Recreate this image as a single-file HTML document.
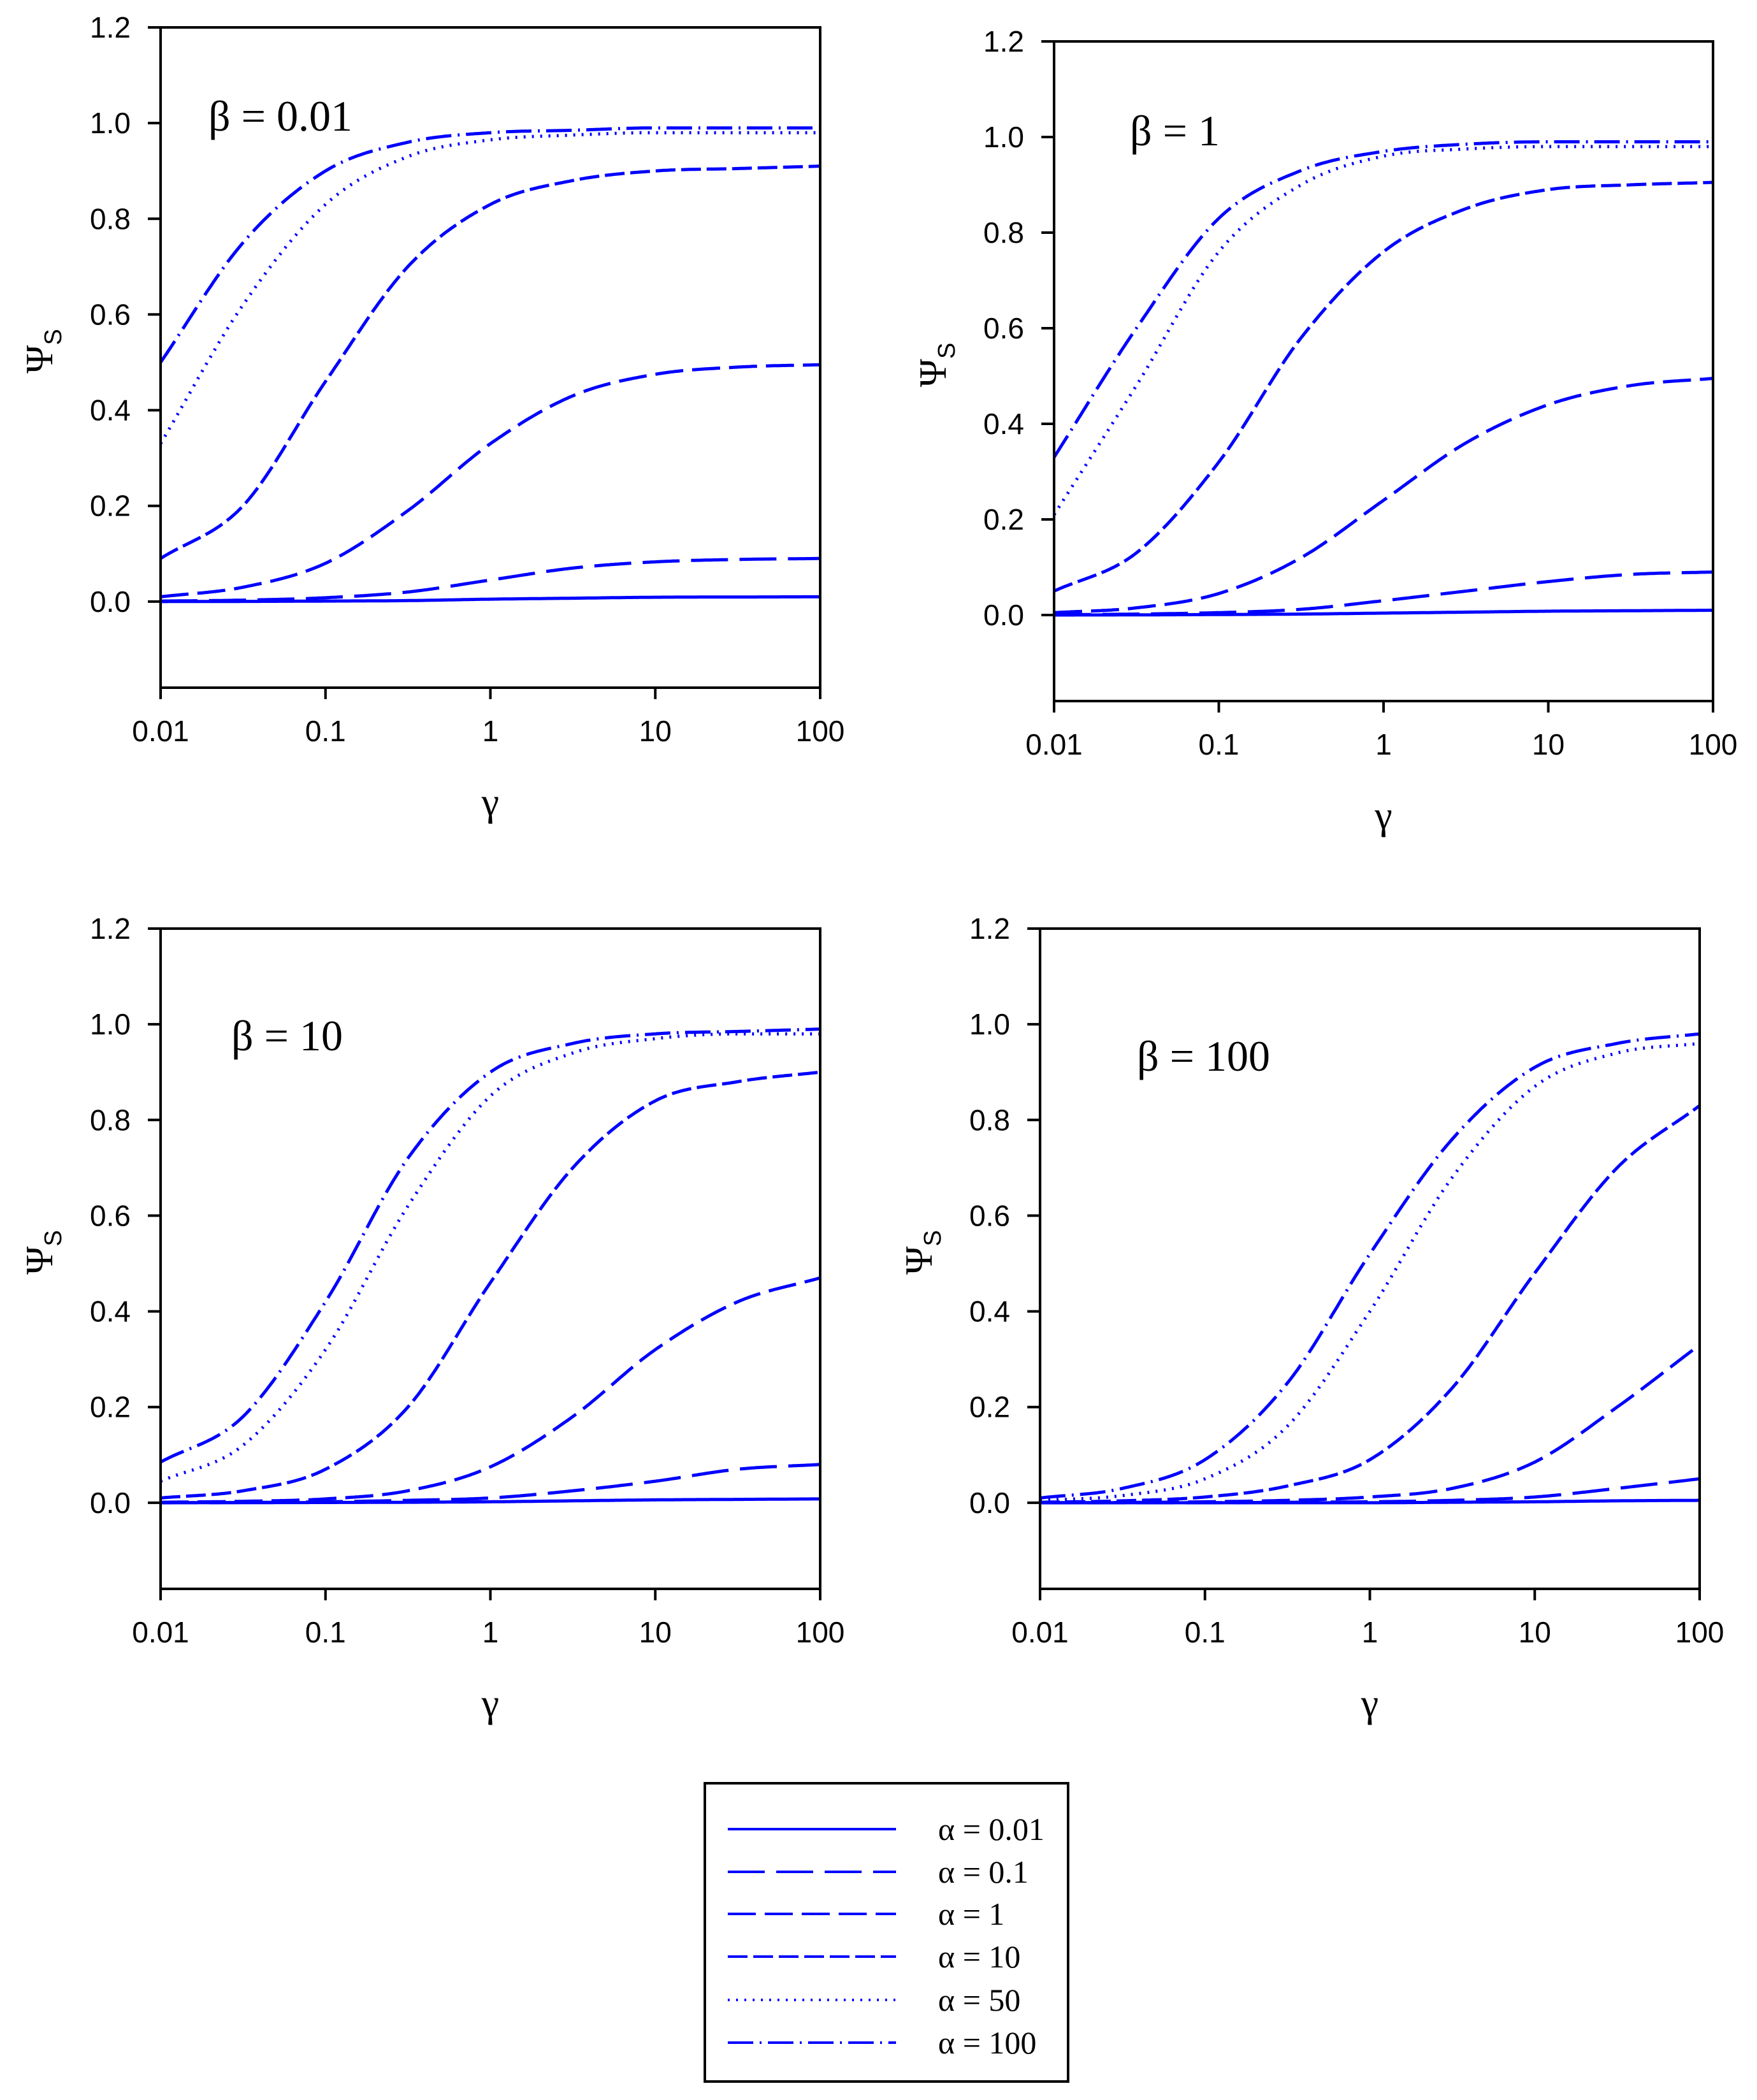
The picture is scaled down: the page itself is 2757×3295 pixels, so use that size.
<!DOCTYPE html>
<html><head><meta charset="utf-8"><style>
html,body{margin:0;padding:0;background:#fff}
svg{display:block}
</style></head><body>
<svg id="fig" xmlns="http://www.w3.org/2000/svg" width="2757" height="3295" viewBox="0 0 2757 3295"></svg>
<script>
const xTicks = [0.01, 0.1, 1, 10, 100];
const xTickLabels = ["0.01", "0.1", "1", "10", "100"];
const yTicks = [0.0, 0.2, 0.4, 0.6, 0.8, 1.0, 1.2];
const yTickLabels = ["0.0", "0.2", "0.4", "0.6", "0.8", "1.0", "1.2"];
const gammaSamples = [0.01, 0.0316, 0.1, 0.316, 1, 3.16, 10, 31.6, 100];
const alphaLabels = ["α = 0.01", "α = 0.1", "α = 1", "α = 10", "α = 50", "α = 100"];
const betaLabels = ["β = 0.01", "β = 1", "β = 10", "β = 100"];
// beta = 0.01
const b1_a001 = [0, 0.0003, 0.001, 0.002, 0.005, 0.007, 0.009, 0.0095, 0.01];
const b1_a01 = [0.001, 0.003, 0.008, 0.02, 0.045, 0.07, 0.083, 0.088, 0.09];
const b1_a1 = [0.01, 0.03, 0.08, 0.19, 0.33, 0.43, 0.475, 0.49, 0.495];
const b1_a10 = [0.09, 0.2, 0.46, 0.70, 0.83, 0.88, 0.9, 0.905, 0.91];
const b1_a50 = [0.33, 0.62, 0.83, 0.93, 0.965, 0.975, 0.98, 0.98, 0.98];
const b1_a100 = [0.5, 0.75, 0.9, 0.96, 0.98, 0.985, 0.99, 0.99, 0.99];
// beta = 1
const b2_a001 = [0, 0.0003, 0.001, 0.002, 0.004, 0.006, 0.008, 0.009, 0.01];
const b2_a01 = [0.0005, 0.002, 0.005, 0.012, 0.03, 0.05, 0.07, 0.085, 0.09];
const b2_a1 = [0.005, 0.015, 0.045, 0.12, 0.24, 0.36, 0.44, 0.48, 0.495];
const b2_a10 = [0.05, 0.13, 0.32, 0.58, 0.76, 0.85, 0.89, 0.9, 0.905];
const b2_a50 = [0.21, 0.48, 0.76, 0.9, 0.96, 0.975, 0.98, 0.98, 0.98];
const b2_a100 = [0.33, 0.6, 0.83, 0.93, 0.97, 0.985, 0.99, 0.99, 0.99];
// beta = 10
const b3_a001 = [0, 0.0002, 0.0005, 0.001, 0.002, 0.004, 0.006, 0.007, 0.008];
const b3_a01 = [0, 0.0005, 0.002, 0.005, 0.01, 0.025, 0.045, 0.07, 0.08];
const b3_a1 = [0.001, 0.003, 0.008, 0.025, 0.075, 0.18, 0.32, 0.42, 0.47];
const b3_a10 = [0.01, 0.025, 0.07, 0.2, 0.46, 0.70, 0.84, 0.88, 0.9];
const b3_a50 = [0.045, 0.12, 0.32, 0.62, 0.85, 0.94, 0.97, 0.98, 0.98];
const b3_a100 = [0.085, 0.18, 0.42, 0.72, 0.9, 0.96, 0.98, 0.985, 0.99];
// beta = 100
const b4_a001 = [0, 0, 0, 0, 0, 0.001, 0.002, 0.004, 0.005];
const b4_a01 = [0, 0, 0, 0.001, 0.002, 0.005, 0.012, 0.03, 0.05];
const b4_a1 = [0, 0.0005, 0.002, 0.005, 0.012, 0.03, 0.085, 0.2, 0.33];
const b4_a10 = [0.001, 0.004, 0.012, 0.035, 0.09, 0.24, 0.48, 0.7, 0.83];
const b4_a50 = [0.005, 0.015, 0.05, 0.16, 0.4, 0.68, 0.87, 0.94, 0.96];
const b4_a100 = [0.01, 0.03, 0.09, 0.25, 0.52, 0.76, 0.91, 0.96, 0.98];

const panelSeries = [
  [b1_a001, b1_a01, b1_a1, b1_a10, b1_a50, b1_a100],
  [b2_a001, b2_a01, b2_a1, b2_a10, b2_a50, b2_a100],
  [b3_a001, b3_a01, b3_a1, b3_a10, b3_a50, b3_a100],
  [b4_a001, b4_a01, b4_a1, b4_a10, b4_a50, b4_a100]
];
const panels = [
  {l:252, r:1287, t:43, b:1079, bx:327, by:205},
  {l:1654, r:2688, t:65, b:1100, bx:1773, by:228},
  {l:252, r:1287, t:1457, b:2493, bx:363, by:1648},
  {l:1632, r:2667, t:1457, b:2493, bx:1784, by:1680}
];
const dashes = ["", "58 18", "44 14", "31 9", "3 10", "40 10 3 10"];
const NS = "http://www.w3.org/2000/svg";
const svg = document.getElementById('fig');
function mk(tag, attrs, parent){
  const e = document.createElementNS(NS, tag);
  for (const k in attrs) e.setAttribute(k, attrs[k]);
  (parent||svg).appendChild(e);
  return e;
}
function monotone(xs, ys){
  const n = xs.length, d = [], m = new Array(n);
  for (let i=0;i<n-1;i++) d.push((ys[i+1]-ys[i])/(xs[i+1]-xs[i]));
  m[0]=d[0]; m[n-1]=d[n-2];
  for (let i=1;i<n-1;i++) m[i] = (d[i-1]*d[i]<=0)?0:(d[i-1]+d[i])/2;
  for (let i=0;i<n-1;i++){
    if (d[i]===0){m[i]=0;m[i+1]=0;continue;}
    const a=m[i]/d[i], b=m[i+1]/d[i], s=a*a+b*b;
    if (s>9){const t=3/Math.sqrt(s); m[i]=t*a*d[i]; m[i+1]=t*b*d[i];}
  }
  return function(x){
    let i=0; while(i<n-2 && x>xs[i+1]) i++;
    const h=xs[i+1]-xs[i], t=(x-xs[i])/h, t2=t*t, t3=t2*t;
    return (2*t3-3*t2+1)*ys[i]+(t3-2*t2+t)*h*m[i]+(-2*t3+3*t2)*ys[i+1]+(t3-t2)*h*m[i+1];
  };
}
panels.forEach((p, pi) => {
  const g = mk('g', {});
  
  
  const xs = v => p.l + (Math.log10(v)+2)/4*(p.r-p.l);
  const yZero = p.b - (p.b-p.t)*0.18/1.38;
  const ys = v => yZero - v*(yZero-p.t)/1.2;
  const lx = gammaSamples.map(v=>Math.log10(v));
  panelSeries[pi].forEach((vals, si) => {
    const f = monotone(lx, vals);
    let pts = [];
    for (let k=0;k<=300;k++){
      const L = -2 + 4*k/300;
      pts.push(xs(Math.pow(10,L)).toFixed(1)+','+ys(f(L)).toFixed(1));
    }
    const pl = mk('polyline', {points:pts.join(' '), fill:'none', stroke:'#0000ff', 'stroke-width':5}, g);
    if (dashes[si]) pl.setAttribute('stroke-dasharray', dashes[si]);
    
    
  });
  const fr = mk('rect', {x:p.l, y:p.t, width:p.r-p.l, height:p.b-p.t, fill:'none', stroke:'#000', 'stroke-width':4}, g);
  
  
  yTicks.forEach((v, i) => {
    const y = ys(v);
    const tk = mk('line', {x1:p.l-20, x2:p.l, y1:y, y2:y, stroke:'#000', 'stroke-width':4}, g);
    
    
    const t = mk('text', {x:p.l-47, y:y+16, 'text-anchor':'end', 'font-family':'Liberation Sans, sans-serif', 'font-size':46}, g);
    t.textContent = yTickLabels[i];
    
    
  });
  xTicks.forEach((v, i) => {
    const x = xs(v);
    const tk = mk('line', {x1:x, x2:x, y1:p.b, y2:p.b+18, stroke:'#000', 'stroke-width':4}, g);
    
    
    const t = mk('text', {x:x, y:p.b+84, 'text-anchor':'middle', 'font-family':'Liberation Sans, sans-serif', 'font-size':46}, g);
    t.textContent = xTickLabels[i];
    
    
  });
  const xl = mk('text', {x:(p.l+p.r)/2, y:p.b+200, 'text-anchor':'middle', 'font-family':'Liberation Serif, serif', 'font-size':62}, g);
  xl.textContent = 'γ';
  
  
  const cy = (p.t+p.b)/2 - 10;
  const yl = mk('text', {transform:`translate(${p.l-170},${cy}) rotate(-90)`, 'text-anchor':'middle', 'font-family':'Liberation Serif, serif', 'font-size':60}, g);
  yl.innerHTML = 'Ψ<tspan font-family="Liberation Sans, sans-serif" font-size="38" dy="14">S</tspan>';
  
  
  const bt = mk('text', {x:p.bx, y:p.by, 'font-family':'Liberation Serif, serif', 'font-size':68}, g);
  bt.textContent = betaLabels[pi];
  
  
});
const lg = mk('g', {});


const box = mk('rect', {x:1106, y:2798, width:570, height:468, fill:'#fff', stroke:'#000', 'stroke-width':4}, lg);


const rowY = [2870, 2937, 3003, 3070, 3138, 3205];
alphaLabels.forEach((lab, i) => {
  const ln = mk('line', {x1:1142, x2:1406, y1:rowY[i], y2:rowY[i], stroke:'#0000ff', 'stroke-width':4}, lg);
  if (dashes[i]) ln.setAttribute('stroke-dasharray', dashes[i]);
  
  
  const t = mk('text', {x:1472, y:rowY[i]+17, 'font-family':'Liberation Serif, serif', 'font-size':50}, lg);
  t.textContent = lab;
  
  
});
</script>
</body></html>
